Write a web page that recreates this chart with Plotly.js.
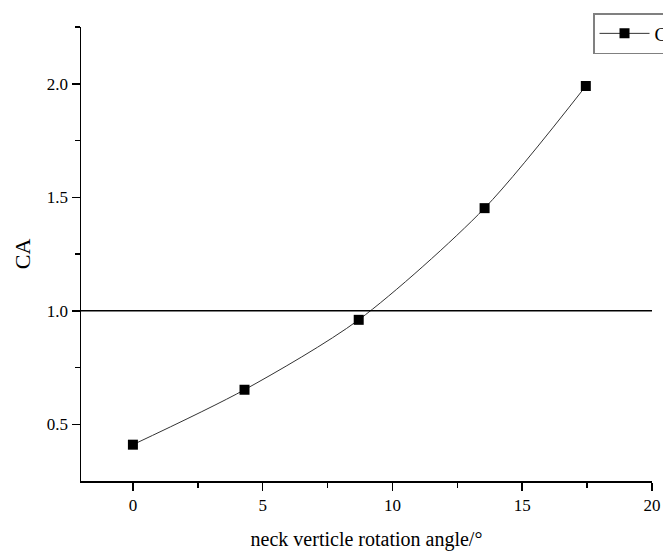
<!DOCTYPE html>
<html>
<head>
<meta charset="utf-8">
<script src="https://cdn.plot.ly/plotly-3.0.1.min.js"></script>
<style>html,body{margin:0;padding:0;background:#fff;overflow:hidden;}#chart{width:663px;height:551px;}</style>
</head>
<body>
<div id="chart"></div>
<script>
const angle = [0, 4.3, 8.7, 13.55, 17.45];
const ca = [0.41, 0.652, 0.96, 1.452, 1.99];
const xTicks = [0, 5, 10, 15, 20];
const yTicks = [0.5, 1.0, 1.5, 2.0];
const refLevel = 1.0;

const serif = 'Liberation Serif, Times New Roman, DejaVu Serif, serif';

const traces = [{
  x: angle, y: ca, name: 'CA', type: 'scatter', mode: 'lines+markers',
  line: {color: '#333333', width: 1, shape: 'spline', smoothing: 0.8},
  marker: {symbol: 'square', size: 10, color: '#000000'}
}];

const layout = {
  width: 663, height: 551,
  margin: {l: 81, r: 11, t: 27, b: 70, autoexpand: false},
  paper_bgcolor: '#ffffff', plot_bgcolor: '#ffffff',
  font: {family: serif, color: '#000000', size: 17},
  showlegend: true,
  legend: {x: 0.8967, xanchor: 'left', y: 1.0308, yanchor: 'top',
    bordercolor: '#808080', borderwidth: 1.5, bgcolor: '#ffffff',
    itemwidth: 50,
    font: {family: serif, size: 19, color: '#000000'}},
  xaxis: {
    range: [-2, 20], tickvals: xTicks, ticktext: xTicks.map(String),
    showgrid: false, zeroline: false, showline: true, linecolor: '#000', linewidth: 1.5,
    ticks: 'outside', ticklen: 8, tickwidth: 1.5, tickcolor: '#000',
    minor: {tickvals: [2.5, 7.5, 12.5, 17.5], ticks: 'outside', ticklen: 5, tickwidth: 1.5, tickcolor: '#000'},
    tickfont: {family: serif, size: 17},
    title: {text: 'neck verticle rotation angle/°', font: {family: serif, size: 20}, standoff: 24}
  },
  yaxis: {
    range: [0.25, 2.25], tickvals: yTicks, ticktext: yTicks.map(v => v.toFixed(1)),
    showgrid: false, zeroline: false, showline: true, linecolor: '#000', linewidth: 1.5,
    ticks: 'outside', ticklen: 8, tickwidth: 1.5, tickcolor: '#000',
    minor: {tickvals: [0.75, 1.25, 1.75, 2.25], ticks: 'outside', ticklen: 5, tickwidth: 1.5, tickcolor: '#000'},
    tickfont: {family: serif, size: 17},
    title: {text: 'CA', font: {family: serif, size: 22}, standoff: 10}
  },
  shapes: [{type: 'line', xref: 'paper', x0: 0, x1: 1, yref: 'y', y0: refLevel, y1: refLevel,
    line: {color: '#000000', width: 1.5}}]
};

Plotly.newPlot('chart', traces, layout, {displayModeBar: false, staticPlot: true});
</script>
</body>
</html>
